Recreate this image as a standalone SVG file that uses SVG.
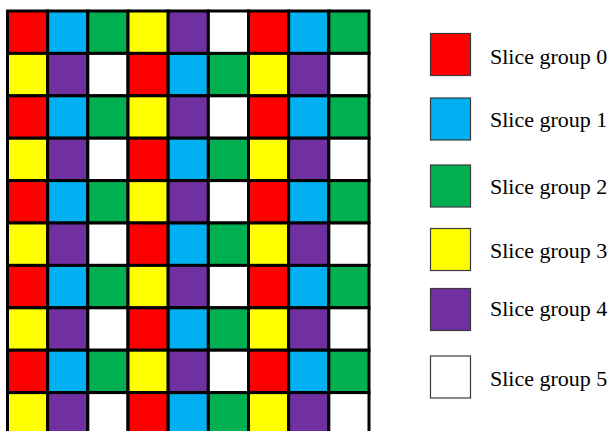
<svg xmlns="http://www.w3.org/2000/svg" xmlns:xlink="http://www.w3.org/1999/xlink" width="612" height="431" viewBox="0 0 612 431">
<style>
.c{stroke:#000;stroke-width:3}
.k{stroke:#3a3a3a;stroke-width:1.2}
.r{fill:#FF0000}.b{fill:#00B0F0}.g{fill:#00B050}.y{fill:#FFFF00}.p{fill:#7030A0}.w{fill:#FFFFFF}
.t{font-family:"Liberation Serif","Times New Roman",serif;font-size:22px;fill:#000}
</style>
<defs>
<g id="rowA">
<rect class="c r" x="7.5" y="0" width="40.17" height="42.4"/>
<rect class="c b" x="47.67" y="0" width="40.17" height="42.4"/>
<rect class="c g" x="87.83" y="0" width="40.17" height="42.4"/>
<rect class="c y" x="128" y="0" width="40.17" height="42.4"/>
<rect class="c p" x="168.17" y="0" width="40.17" height="42.4"/>
<rect class="c w" x="208.33" y="0" width="40.17" height="42.4"/>
<rect class="c r" x="248.5" y="0" width="40.17" height="42.4"/>
<rect class="c b" x="288.67" y="0" width="40.17" height="42.4"/>
<rect class="c g" x="328.83" y="0" width="40.17" height="42.4"/>
</g>
<g id="rowB">
<rect class="c y" x="7.5" y="0" width="40.17" height="42.4"/>
<rect class="c p" x="47.67" y="0" width="40.17" height="42.4"/>
<rect class="c w" x="87.83" y="0" width="40.17" height="42.4"/>
<rect class="c r" x="128" y="0" width="40.17" height="42.4"/>
<rect class="c b" x="168.17" y="0" width="40.17" height="42.4"/>
<rect class="c g" x="208.33" y="0" width="40.17" height="42.4"/>
<rect class="c y" x="248.5" y="0" width="40.17" height="42.4"/>
<rect class="c p" x="288.67" y="0" width="40.17" height="42.4"/>
<rect class="c w" x="328.83" y="0" width="40.17" height="42.4"/>
</g>
</defs>
<g id="grid">
<use xlink:href="#rowA" href="#rowA" y="11"/>
<use xlink:href="#rowB" href="#rowB" y="53.4"/>
<use xlink:href="#rowA" href="#rowA" y="95.8"/>
<use xlink:href="#rowB" href="#rowB" y="138.2"/>
<use xlink:href="#rowA" href="#rowA" y="180.6"/>
<use xlink:href="#rowB" href="#rowB" y="223"/>
<use xlink:href="#rowA" href="#rowA" y="265.4"/>
<use xlink:href="#rowB" href="#rowB" y="307.8"/>
<use xlink:href="#rowA" href="#rowA" y="350.2"/>
<use xlink:href="#rowB" href="#rowB" y="392.6"/>
</g>
<g id="legend0"><rect class="k r" x="430.5" y="33.5" width="40" height="42"/><text class="t" x="490" y="63.5">Slice group 0</text></g>
<g id="legend1"><rect class="k b" x="430.5" y="98" width="40" height="42"/><text class="t" x="490" y="126.5">Slice group 1</text></g>
<g id="legend2"><rect class="k g" x="430.5" y="165" width="40" height="42"/><text class="t" x="490" y="194">Slice group 2</text></g>
<g id="legend3"><rect class="k y" x="430.5" y="228.5" width="40" height="42"/><text class="t" x="490" y="257.5">Slice group 3</text></g>
<g id="legend4"><rect class="k p" x="430.5" y="288.5" width="40" height="42"/><text class="t" x="490" y="316">Slice group 4</text></g>
<g id="legend5"><rect class="k w" x="430.5" y="356" width="40" height="42"/><text class="t" x="490" y="386">Slice group 5</text></g>
</svg>
